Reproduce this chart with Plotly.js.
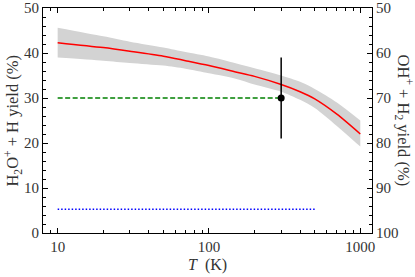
<!DOCTYPE html>
<html><head><meta charset="utf-8">
<script src="https://cdn.plot.ly/plotly-3.0.1.min.js"></script>
<style>html,body{margin:0;padding:0;background:#fff}#plot{width:415px;height:277px}</style>
</head><body><div id="plot"></div>
<script>
// Temperature grid (K)
const T = [10, 20, 30, 50, 70, 100, 150, 200, 300, 400, 500, 700, 1000];
// H2O+ + H yield (%) model curve and its uncertainty band
const yieldModel = [42.3, 41.2, 40.4, 39.3, 38.3, 37.2, 35.8, 34.8, 33.0, 31.4, 29.8, 26.4, 22.0];
const bandUpper  = [45.6, 43.7, 42.5, 41.2, 40.2, 39.2, 37.7, 36.6, 35.0, 33.6, 32.0, 29.0, 25.0];
const bandLower  = [39.0, 38.3, 37.8, 37.2, 36.5, 35.5, 34.3, 33.0, 31.4, 29.6, 27.8, 23.8, 19.2];
// Green dashed reference level
const greenT = [10, 300];
const greenY = [30, 30];
// Blue dotted reference level
const blueT = [10, 500];
const blueY = [5.3, 5.3];
// Measured point with error bar
const measT = [300];
const measY = [30];
const measErr = [9];
// Axis ticks
const xTicks = [10, 100, 1000];
const xMinor = [8, 9, 20, 30, 40, 50, 60, 70, 80, 90, 200, 300, 400, 500, 600, 700, 800, 900];

const serif = "Liberation Serif";

const traces = [
  {x: T, y: bandUpper, mode: 'lines', line: {width: 0, color: '#d3d3d3', shape: 'spline', smoothing: 0.8}, hoverinfo: 'skip', showlegend: false},
  {x: T, y: bandLower, mode: 'lines', line: {width: 0, color: '#d3d3d3', shape: 'spline', smoothing: 0.8}, fill: 'tonexty', fillcolor: '#d3d3d3', hoverinfo: 'skip', showlegend: false},
  {x: T, y: yieldModel, mode: 'lines', line: {color: '#ff0000', width: 1.5, shape: 'spline', smoothing: 0.8}, showlegend: false},
  {x: greenT, y: greenY, mode: 'lines', line: {color: '#008000', width: 1.5, dash: '5px,2.5px'}, showlegend: false},
  {x: blueT, y: blueY, mode: 'lines', line: {color: '#0000ff', width: 1.5, dash: '1.5px,2px'}, showlegend: false},
  {x: measT, y: measY, mode: 'markers', marker: {color: '#000', size: 7},
   error_y: {type: 'data', array: measErr, visible: true, color: '#000', thickness: 1.5, width: 0}, showlegend: false},
  {x: measT, y: [100 - measY[0]], yaxis: 'y2', mode: 'markers', marker: {opacity: 0}, hoverinfo: 'skip', showlegend: false}
];

const axisCommon = {
  showline: true, linecolor: '#000', linewidth: 1, ticks: 'inside', ticklen: 5, tickwidth: 1, tickcolor: '#000',
  showgrid: false, zeroline: false, tickfont: {family: serif, size: 15, color: '#333'}
};

const layout = {
  width: 415, height: 277,
  margin: {l: 43, r: 43, t: 8, b: 44},
  paper_bgcolor: '#fff', plot_bgcolor: '#fff',
  showlegend: false,
  font: {family: serif},
  xaxis: Object.assign({}, axisCommon, {
    type: 'log', range: [Math.log10(8.0), Math.log10(1195)],
    tickmode: 'array', tickvals: xTicks, ticktext: xTicks.map(String), mirror: 'ticks',
    minor: {tickmode: 'array', tickvals: xMinor, ticks: 'inside', ticklen: 3, tickcolor: '#000', showgrid: false}
  }),
  yaxis: Object.assign({}, axisCommon, {
    range: [0, 50], dtick: 10, tick0: 0, mirror: false,
    minor: {dtick: 2, tick0: 0, ticks: 'inside', ticklen: 3, tickcolor: '#000', showgrid: false}
  }),
  yaxis2: Object.assign({}, axisCommon, {
    overlaying: 'y', side: 'right', range: [100, 50], dtick: 10, tick0: 50,
    minor: {dtick: 2, tick0: 50, ticks: 'inside', ticklen: 3, tickcolor: '#000', showgrid: false}
  }),
  annotations: [
    {text: 'H<sub>2</sub>O<sup>+</sup> + H yield (%)', xref: 'paper', yref: 'paper', x: -0.094, y: 0.5,
     xanchor: 'center', yanchor: 'middle', textangle: -90, showarrow: false,
     font: {family: serif, size: 16.5, color: '#333'}},
    {text: 'OH<sup>+</sup> + H<sub>2</sub> yield (%)', xref: 'paper', yref: 'paper', x: 1.1, y: 0.5,
     xanchor: 'center', yanchor: 'middle', textangle: 90, showarrow: false,
     font: {family: serif, size: 16.5, color: '#333'}},
    {text: '<i>T</i>  (K)', xref: 'paper', yref: 'paper', x: 0.5015, y: -0.142,
     xanchor: 'center', yanchor: 'middle', showarrow: false,
     font: {family: serif, size: 16, color: '#333'}}
  ]
};

Plotly.newPlot('plot', traces, layout, {staticPlot: true, displayModeBar: false});
</script>
</body></html>
